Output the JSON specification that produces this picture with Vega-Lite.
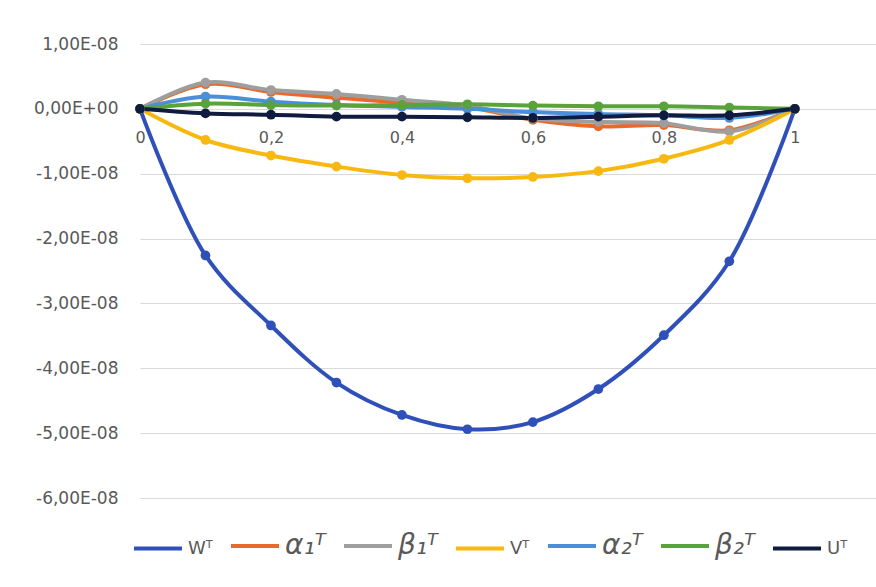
{
  "$schema": "https://vega.github.io/schema/vega-lite/v6.json",
  "width": 736,
  "height": 454,
  "autosize": "none",
  "padding": {"left": 140, "top": 44, "right": 0, "bottom": 89},
  "background": "white",
  "config": {"view": {"stroke": null}, "font": "DejaVu Sans"},
  "datasets": {
    "d": [
      {"x":0,"s":"Wᵀ","y":0},{"x":0.1,"s":"Wᵀ","y":-2.26e-8},{"x":0.2,"s":"Wᵀ","y":-3.34e-8},{"x":0.3,"s":"Wᵀ","y":-4.22e-8},{"x":0.4,"s":"Wᵀ","y":-4.72e-8},{"x":0.5,"s":"Wᵀ","y":-4.94e-8},{"x":0.6,"s":"Wᵀ","y":-4.83e-8},{"x":0.7,"s":"Wᵀ","y":-4.32e-8},{"x":0.8,"s":"Wᵀ","y":-3.49e-8},{"x":0.9,"s":"Wᵀ","y":-2.35e-8},{"x":1,"s":"Wᵀ","y":0},
      {"x":0,"s":"α₁ᵀ","y":0},{"x":0.1,"s":"α₁ᵀ","y":0.38e-8},{"x":0.2,"s":"α₁ᵀ","y":0.26e-8},{"x":0.3,"s":"α₁ᵀ","y":0.17e-8},{"x":0.4,"s":"α₁ᵀ","y":0.10e-8},{"x":0.5,"s":"α₁ᵀ","y":0.03e-8},{"x":0.6,"s":"α₁ᵀ","y":-0.17e-8},{"x":0.7,"s":"α₁ᵀ","y":-0.27e-8},{"x":0.8,"s":"α₁ᵀ","y":-0.25e-8},{"x":0.9,"s":"α₁ᵀ","y":-0.33e-8},{"x":1,"s":"α₁ᵀ","y":0},
      {"x":0,"s":"β₁ᵀ","y":0},{"x":0.1,"s":"β₁ᵀ","y":0.405e-8},{"x":0.2,"s":"β₁ᵀ","y":0.29e-8},{"x":0.3,"s":"β₁ᵀ","y":0.23e-8},{"x":0.4,"s":"β₁ᵀ","y":0.14e-8},{"x":0.5,"s":"β₁ᵀ","y":0.05e-8},{"x":0.6,"s":"β₁ᵀ","y":-0.15e-8},{"x":0.7,"s":"β₁ᵀ","y":-0.20e-8},{"x":0.8,"s":"β₁ᵀ","y":-0.22e-8},{"x":0.9,"s":"β₁ᵀ","y":-0.35e-8},{"x":1,"s":"β₁ᵀ","y":0},
      {"x":0,"s":"Vᵀ","y":0},{"x":0.1,"s":"Vᵀ","y":-0.48e-8},{"x":0.2,"s":"Vᵀ","y":-0.72e-8},{"x":0.3,"s":"Vᵀ","y":-0.89e-8},{"x":0.4,"s":"Vᵀ","y":-1.02e-8},{"x":0.5,"s":"Vᵀ","y":-1.07e-8},{"x":0.6,"s":"Vᵀ","y":-1.05e-8},{"x":0.7,"s":"Vᵀ","y":-0.96e-8},{"x":0.8,"s":"Vᵀ","y":-0.77e-8},{"x":0.9,"s":"Vᵀ","y":-0.48e-8},{"x":1,"s":"Vᵀ","y":0},
      {"x":0,"s":"α₂ᵀ","y":0},{"x":0.1,"s":"α₂ᵀ","y":0.19e-8},{"x":0.2,"s":"α₂ᵀ","y":0.11e-8},{"x":0.3,"s":"α₂ᵀ","y":0.06e-8},{"x":0.4,"s":"α₂ᵀ","y":0.03e-8},{"x":0.5,"s":"α₂ᵀ","y":0},{"x":0.6,"s":"α₂ᵀ","y":-0.05e-8},{"x":0.7,"s":"α₂ᵀ","y":-0.08e-8},{"x":0.8,"s":"α₂ᵀ","y":-0.10e-8},{"x":0.9,"s":"α₂ᵀ","y":-0.14e-8},{"x":1,"s":"α₂ᵀ","y":0},
      {"x":0,"s":"β₂ᵀ","y":0},{"x":0.1,"s":"β₂ᵀ","y":0.08e-8},{"x":0.2,"s":"β₂ᵀ","y":0.06e-8},{"x":0.3,"s":"β₂ᵀ","y":0.05e-8},{"x":0.4,"s":"β₂ᵀ","y":0.06e-8},{"x":0.5,"s":"β₂ᵀ","y":0.07e-8},{"x":0.6,"s":"β₂ᵀ","y":0.05e-8},{"x":0.7,"s":"β₂ᵀ","y":0.04e-8},{"x":0.8,"s":"β₂ᵀ","y":0.04e-8},{"x":0.9,"s":"β₂ᵀ","y":0.02e-8},{"x":1,"s":"β₂ᵀ","y":0},
      {"x":0,"s":"Uᵀ","y":0},{"x":0.1,"s":"Uᵀ","y":-0.07e-8},{"x":0.2,"s":"Uᵀ","y":-0.09e-8},{"x":0.3,"s":"Uᵀ","y":-0.12e-8},{"x":0.4,"s":"Uᵀ","y":-0.12e-8},{"x":0.5,"s":"Uᵀ","y":-0.13e-8},{"x":0.6,"s":"Uᵀ","y":-0.14e-8},{"x":0.7,"s":"Uᵀ","y":-0.12e-8},{"x":0.8,"s":"Uᵀ","y":-0.10e-8},{"x":0.9,"s":"Uᵀ","y":-0.10e-8},{"x":1,"s":"Uᵀ","y":0}
    ]
  },
  "data": {"name": "d"},
  "mark": {"type": "line", "interpolate": "catmull-rom", "strokeWidth": 4, "point": {"size": 95, "filled": true, "opacity": 1}},
  "encoding": {
    "x": {
      "field": "x", "type": "quantitative",
      "scale": {"domain": [0, 1.124], "nice": false, "zero": false},
      "axis": {
        "values": [0, 0.2, 0.4, 0.6, 0.8, 1],
        "grid": false, "ticks": false, "domain": true, "domainColor": "#d9d9d9",
        "offset": -389, "labelPadding": 20,
        "labelExpr": "replace(format(datum.value, ''), '.', ',')",
        "labelFont": "DejaVu Sans", "labelFontSize": 16, "labelColor": "#595959",
        "labelFlush": false, "labelOverlap": false,
        "title": null
      }
    },
    "y": {
      "field": "y", "type": "quantitative",
      "scale": {"domain": [-6e-8, 1e-8], "nice": false, "zero": false},
      "axis": {
        "values": [1e-8, 0, -1e-8, -2e-8, -3e-8, -4e-8, -5e-8, -6e-8],
        "grid": true, "gridColor": "#d9d9d9", "gridWidth": 1,
        "ticks": false, "domain": false, "labelPadding": 22,
        "labelExpr": "datum.value == 0 ? '0,00E+00' : (datum.value < 0 ? '-' : '') + replace(format(abs(datum.value) * 1e8, '.2f'), '.', ',') + 'E-08'",
        "labelFont": "DejaVu Sans", "labelFontSize": 17, "labelColor": "#595959",
        "labelFlush": false, "labelOverlap": false,
        "title": null
      }
    },
    "color": {
      "field": "s", "type": "nominal",
      "scale": {
        "domain": ["Wᵀ", "α₁ᵀ", "β₁ᵀ", "Vᵀ", "α₂ᵀ", "β₂ᵀ", "Uᵀ"],
        "range": ["#2f50b8", "#e8692a", "#9e9e9e", "#f7b811", "#4a8fd8", "#5aa33c", "#0f1c40"]
      },
      "legend": {
        "orient": "none", "legendX": -8, "legendY": 476,
        "direction": "horizontal", "title": null,
        "symbolType": "stroke", "symbolStrokeWidth": 4, "symbolSize": 2304,
        "labelFont": "DejaVu Sans", "labelFontSize": 16, "labelColor": "#595959",
        "columnPadding": 10, "labelOffset": 4,
        "encode": {
          "labels": {
            "update": {
              "fontSize": {"signal": "test(/[αβ]/, datum.label) ? 28 : 18"},
              "fontStyle": {"signal": "test(/[αβ]/, datum.label) ? 'italic' : 'normal'"}
            }
          }
        }
      }
    }
  }
}
